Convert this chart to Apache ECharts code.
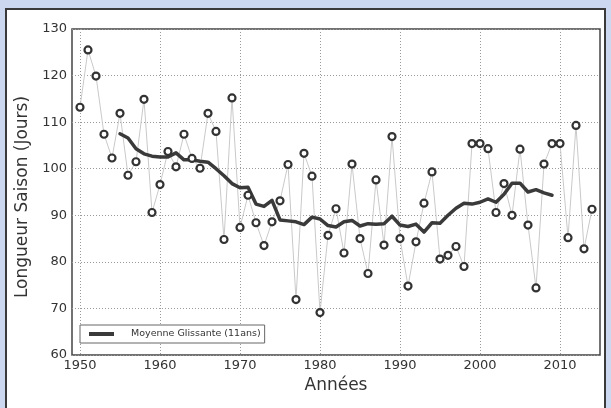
<!DOCTYPE html>
<html><head><meta charset="utf-8">
<script src="https://cdn.jsdelivr.net/npm/echarts@6/dist/echarts.min.js"></script>
<style>
html,body{margin:0;padding:0;width:611px;height:408px;background:#cbd8ef;overflow:hidden}
#panel{position:absolute;left:5px;top:8px;width:597px;height:410px;background:#fff;border:2px solid #3a3a3a;border-bottom:none}
#chart{position:absolute;left:0;top:0;width:611px;height:408px}
</style></head><body><div id="panel"></div><div id="chart"></div>
<script>
const years = [1950,1951,1952,1953,1954,1955,1956,1957,1958,1959,
  1960,1961,1962,1963,1964,1965,1966,1967,1968,1969,
  1970,1971,1972,1973,1974,1975,1976,1977,1978,1979,
  1980,1981,1982,1983,1984,1985,1986,1987,1988,1989,
  1990,1991,1992,1993,1994,1995,1996,1997,1998,1999,
  2000,2001,2002,2003,2004,2005,2006,2007,2008,2009,
  2010,2011,2012,2013,2014];
const values = [113.2,125.5,119.9,107.4,102.3,111.9,98.6,101.5,114.9,90.6,
  96.6,103.7,100.4,107.4,102.2,100.1,111.9,108.0,84.8,115.2,
  87.4,94.3,88.4,83.5,88.6,93.1,100.9,71.9,103.3,98.4,
  69.1,85.7,91.4,81.9,101.0,85.0,77.5,97.6,83.6,106.9,
  85.0,74.8,84.3,92.6,99.3,80.6,81.4,83.3,79.0,105.4,
  105.4,104.3,90.6,96.8,90.0,104.2,87.9,74.4,101.0,105.4,
  105.4,85.2,109.3,82.8,91.3];
const maYears = [1955,1956,1957,1958,1959,1960,1961,1962,1963,1964,
  1965,1966,1967,1968,1969,1970,1971,1972,1973,1974,
  1975,1976,1977,1978,1979,1980,1981,1982,1983,1984,
  1985,1986,1987,1988,1989,1990,1991,1992,1993,1994,
  1995,1996,1997,1998,1999,2000,2001,2002,2003,2004,
  2005,2006,2007,2008,2009];
const maValues = [107.5,106.6,104.3,103.2,102.7,102.5,102.5,103.4,101.9,101.9,
  101.6,101.4,100.0,98.5,96.8,95.9,96.0,92.4,91.9,93.2,
  89.0,88.8,88.6,88.0,89.6,89.2,87.8,87.5,88.6,88.9,
  87.7,88.2,88.1,88.2,89.8,87.9,87.6,88.1,86.4,88.4,
  88.3,90.0,91.5,92.6,92.4,92.8,93.5,92.8,94.5,96.9,
  96.9,95.0,95.5,94.8,94.3];
const xTicks = [1950,1960,1970,1980,1990,2000,2010];
const maName = 'Moyenne Glissante (11ans)';
const xTitle = 'Années';
const yTitle = 'Longueur Saison (Jours)';

const FONT = 'DejaVu Sans';
const pts = years.map((y, i) => [y, values[i]]);
const maPts = maYears.map((y, i) => [y, maValues[i]]);
const gridLine = { show: true, lineStyle: { color: '#9a9a9a', width: 1, type: [1, 2] } };

const chart = echarts.init(document.getElementById('chart'), null, { renderer: 'canvas' });
chart.setOption({
  animation: false,
  textStyle: { fontFamily: FONT },
  grid: { left: 72, top: 29, right: 11, bottom: 53, show: true, borderColor: '#444', borderWidth: 1.5, backgroundColor: 'transparent' },
  legend: {
    data: [{ name: maName, icon: 'rect' }],
    left: 80, top: 325,
    orient: 'horizontal',
    itemWidth: 25, itemHeight: 4,
    padding: [4, 4, 4, 9],
    backgroundColor: '#fff',
    borderColor: '#666', borderWidth: 1, borderRadius: 0,
    textStyle: { fontFamily: FONT, fontSize: 9.5, color: '#333', padding: [0, 0, 0, 12] }
  },
  xAxis: {
    type: 'value', min: 1949, max: 2015,
    name: xTitle, nameLocation: 'middle', nameGap: 22,
    nameTextStyle: { fontFamily: FONT, fontSize: 17, color: '#333' },
    axisLine: { show: false },
    axisTick: { show: false, customValues: xTicks },
    axisLabel: { customValues: xTicks, fontFamily: FONT, fontSize: 13, color: '#333', margin: 4, formatter: v => String(v) },
    splitLine: gridLine
  },
  yAxis: {
    type: 'value', min: 60, max: 130, interval: 10,
    name: yTitle, nameLocation: 'middle', nameGap: 31,
    nameTextStyle: { fontFamily: FONT, fontSize: 17, color: '#333', padding: [0, 10, 0, 0] },
    axisLine: { show: false },
    axisTick: { show: false },
    axisLabel: { fontFamily: FONT, fontSize: 13, color: '#333', margin: 5 },
    splitLine: gridLine
  },
  series: [
    {
      name: 'data-line', type: 'line', data: pts, showSymbol: false, z: 1,
      lineStyle: { color: '#c9c9c9', width: 1 }, silent: true
    },
    {
      name: maName, type: 'line', data: maPts, showSymbol: false, z: 2,
      color: '#3a3a3a',
      lineStyle: { color: '#3a3a3a', width: 3.5, join: 'round', cap: 'round' }
    },
    {
      name: 'data-points', type: 'scatter', data: pts, z: 3,
      symbol: 'circle', symbolSize: 7,
      itemStyle: { color: '#fff', borderColor: '#333', borderWidth: 2.2, opacity: 1 }
    }
  ]
});
</script></body></html>
